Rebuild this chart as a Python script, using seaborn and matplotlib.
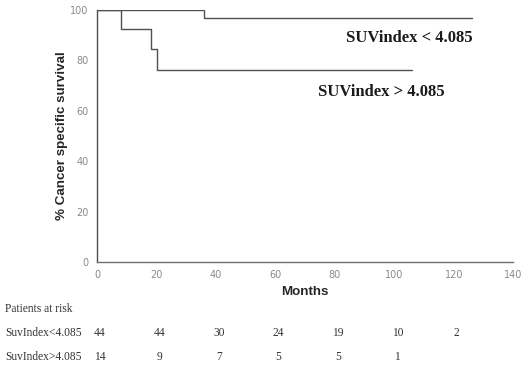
import numpy as np
import pandas as pd
import matplotlib
matplotlib.use('Agg')
import matplotlib.pyplot as plt
import seaborn as sns

# survival curve steps (months, % survival)
low_months = [0, 36, 126]
low_surv = [100, 96.7, 96.7]
high_months = [0, 8, 18, 20, 106]
high_surv = [100, 92.3, 84.6, 76.2, 76.2]

# patients at risk table
risk_months = [0, 20, 40, 60, 80, 100, 120]
risk_low = [44, 44, 30, 24, 19, 10, 2]
risk_high = [14, 9, 7, 5, 5, 1]

x_ticks = [0, 20, 40, 60, 80, 100, 120, 140]
y_ticks = [0, 20, 40, 60, 80, 100]

df = pd.concat([
    pd.DataFrame({'months': low_months, 'surv': low_surv, 'group': 'SUVindex < 4.085'}),
    pd.DataFrame({'months': high_months, 'surv': high_surv, 'group': 'SUVindex > 4.085'}),
])

sns.set_style('white')
fig = plt.figure(figsize=(5.28, 3.68), dpi=100)
ax = fig.add_axes([0.184, 0.288, 0.788, 0.685])

line_col = '#505050'
for grp, sub in df.groupby('group'):
    sns.lineplot(data=sub, x='months', y='surv', drawstyle='steps-post',
                 estimator=None, sort=False, color=line_col, linewidth=1.0, ax=ax)

ax.set_xlim(0, 140)
ax.set_ylim(0, 100)
ax.set_xticks(x_ticks)
ax.set_yticks(y_ticks)
ax.tick_params(length=0, labelsize=7, labelcolor='#8a8a8a', pad=6)
for s in ['top', 'right']:
    ax.spines[s].set_visible(False)
ax.spines['left'].set_color('#505050')
ax.spines['bottom'].set_color('#707070')
ax.spines['left'].set_linewidth(1.0)
ax.spines['bottom'].set_linewidth(1.0)

lab_font = dict(family='Liberation Sans', weight='bold', size=9.6, color='#262626')
ax.set_xlabel('Months', labelpad=4, **lab_font)
ax.set_ylabel('% Cancer specific survival', labelpad=2, **lab_font)

serif_bold = dict(family='Liberation Serif', weight='bold', size=12, color='#1a1a1a')
ax.text(126.5, 88.9, 'SUVindex < 4.085', ha='right', va='center', **serif_bold)
ax.text(117, 67.5, 'SUVindex > 4.085', ha='right', va='center', **serif_bold)

# patients at risk, drawn under the axes
tbl = dict(family='Liberation Serif', size=8.3, color='#333333')
trans = ax.get_xaxis_transform()
fig.text(5 / 528, 1 - 309 / 368, 'Patients at risk', ha='left', va='center', **tbl)
fig.text(5 / 528, 1 - 333 / 368, 'SuvIndex<4.085', ha='left', va='center', **tbl)
fig.text(5 / 528, 1 - 357 / 368, 'SuvIndex>4.085', ha='left', va='center', **tbl)
y_row1 = (1 - 333 / 368 - 0.288) / 0.685
y_row2 = (1 - 357 / 368 - 0.288) / 0.685
for m, n in zip(risk_months, risk_low):
    ax.text(m + 1, y_row1, str(n), ha='center', va='center', transform=trans, clip_on=False, **tbl)
for m, n in zip(risk_months, risk_high):
    ax.text(m + 1, y_row2, str(n), ha='center', va='center', transform=trans, clip_on=False, **tbl)

fig.savefig('out.png', dpi=100)
